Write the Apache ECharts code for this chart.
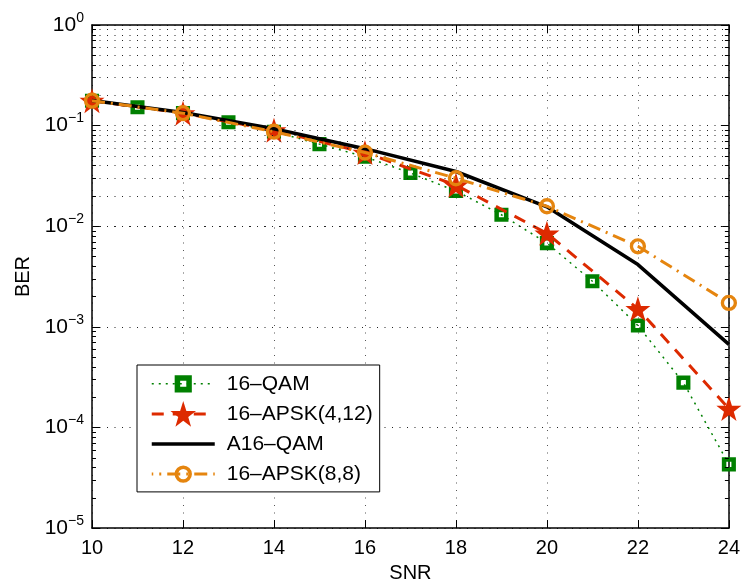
<!DOCTYPE html>
<html>
<head>
<meta charset="utf-8">
<script src="https://cdn.jsdelivr.net/npm/echarts@6/dist/echarts.min.js"></script>
<style>html,body{margin:0;padding:0;background:#fff;}#c{width:743px;height:588px;}</style>
</head>
<body>
<div id="c"></div>
<script>
// ---- data ----
const qamX = [10,11,12,13,14,15,16,17,18,19,20,21,22,23,24];
const qamY = [0.177,0.152,0.133,0.108,0.087,0.0655,0.049,0.0338,0.0224,0.0130,0.0068,0.00284,0.00103,0.000279,0.000043];
const evenX = [10,12,14,16,18,20,22,24];
const apsk412Y = [0.177,0.133,0.090,0.054,0.0256,0.0085,0.00151,0.000154];
const a16qamY = [0.178,0.135,0.093,0.059,0.035,0.0156,0.00416,0.000669];
const apsk88Y = [0.177,0.133,0.087,0.054,0.0300,0.0158,0.00632,0.00173];
const seriesNames = ['16\u2013QAM','16\u2013APSK(4,12)','A16\u2013QAM','16\u2013APSK(8,8)'];
const decades = [-5,-4,-3,-2,-1,0];

const pair = (xs, ys) => xs.map((x,i)=>[x, ys[i]]);
const FONT = 'Liberation Sans, Arial, sans-serif';
const GREEN = '#008000', RED = '#dd2a00', ORANGE = '#e5850f';
const star = 'path://M50,0 L61.8,35.1 L98.1,35.1 L68.8,56.7 L79.4,91 L50,70 L20.6,91 L31.2,56.7 L1.9,35.1 L38.2,35.1 Z';
const corners = 'M0,0 L0.1,0 L0,0.1 Z M100,100 L99.9,100 L100,99.9 Z ';
const squareRing = 'path://' + corners + 'M16.5,16.5 L83.5,16.5 L83.5,83.5 L16.5,83.5 Z M38,38 L38,62 L62,62 L62,38 Z';
const circleRing = 'path://' + corners + 'M16,50 A34,34 0 1,1 84,50 A34,34 0 1,1 16,50 Z M30,50 A20,20 0 1,0 70,50 A20,20 0 1,0 30,50 Z';

// minor grid values
const minorVals = [];
for (const d of decades.slice(0,-1)) for (let k=2;k<=9;k++) minorVals.push(k*Math.pow(10,d));
const dx = 4/45.7;
const minorLines = minorVals.map(v => ({yAxis: v}));
const minorTicks = [];
minorVals.forEach(v => {
  minorTicks.push([{coord:[10, v]},{coord:[10+dx, v]}]);
  minorTicks.push([{coord:[24-dx, v]},{coord:[24, v]}]);
});

const chart = echarts.init(document.getElementById('c'), null, {renderer:'canvas'});
const labelFmt = v => {
  const e = Math.round(Math.log10(v));
  return '{b|10}{s|' + (e < 0 ? '\u2212' + (-e) : e) + '}';
};
const gridDot = {color:'#222', width:1, type:[1,6.5]};
chart.setOption({
  animation: false,
  textStyle: {fontFamily: FONT},
  grid: {left: 92, right: 11, top: 25, bottom: 59, containLabel: false},
  legend: {
    data: [
      {name: seriesNames[0]},
      {name: seriesNames[1]},
      {name: seriesNames[2], itemStyle: {opacity: 0}},
      {name: seriesNames[3], lineStyle: {dashOffset: 11.5}}
    ],
    orient: 'vertical',
    left: 137, top: 365,
    padding: [6, 7, 5, 13],
    itemWidth: 63, itemHeight: 32, itemGap: 4.5,
    backgroundColor: '#fff',
    borderColor: '#000', borderWidth: 1,
    lineStyle: {width: 'inherit'},
    textStyle: {fontFamily: FONT, fontSize: 21, color: '#000', padding: [0,0,0,7]}
  },
  xAxis: [{
    type: 'value', min: 10, max: 24, interval: 2,
    name: 'SNR', nameLocation: 'middle', nameGap: 33,
    nameTextStyle: {fontSize: 20, color: '#000', fontFamily: FONT},
    axisLine: {lineStyle: {color: '#000', width: 1.5}},
    axisTick: {inside: true, length: 8, lineStyle: {color: '#000'}},
    axisLabel: {fontSize: 20, color: '#000', margin: 10, fontFamily: FONT},
    splitLine: {show: true, lineStyle: {color:'#555', width:1, type:[1,6.5]}}
  },{
    type: 'value', min: 10, max: 24, interval: 2, position: 'top',
    axisLine: {show: true, lineStyle: {color: '#000', width: 1.5}},
    axisTick: {inside: true, length: 8, lineStyle: {color: '#000'}},
    axisLabel: {show: false}, splitLine: {show: false}
  }],
  yAxis: [{
    type: 'log', logBase: 10, min: 1e-5, max: 1, splitNumber: 5,
    name: 'BER', nameLocation: 'middle', nameGap: 55, nameRotate: 90,
    nameTextStyle: {fontSize: 20, color: '#000', fontFamily: FONT},
    axisLine: {show: true, lineStyle: {color: '#000', width: 1.5}},
    axisTick: {show: true, inside: true, length: 8, lineStyle: {color: '#000'}},
    axisLabel: {
      formatter: labelFmt, margin: 8, color: '#000',
      rich: {
        b: {fontSize: 21, fontFamily: FONT, color:'#000'},
        s: {fontSize: 14, fontFamily: FONT, color:'#000', padding: [0,0,14,0]}
      }
    },
    splitLine: {show: true, lineStyle: gridDot}
  },{
    type: 'log', logBase: 10, min: 1e-5, max: 1, splitNumber: 5, position: 'right',
    axisLine: {show: true, lineStyle: {color: '#000', width: 1.5}},
    axisTick: {show: true, inside: true, length: 8, lineStyle: {color: '#000'}},
    axisLabel: {show: false}, splitLine: {show: false}
  }],
  series: [
    {
      name: 'minor', type: 'line', data: [[10, 1e-5]], symbol: 'none',
      lineStyle: {opacity: 0}, silent: true, legendHoverLink: false,
      markLine: {
        silent: true, symbol: ['none','none'], label: {show: false},
        lineStyle: gridDot,
        data: minorLines
      },
      z: 1
    },
    {
      name: 'minorTicks', type: 'line', data: [[10, 1e-5]], symbol: 'none',
      lineStyle: {opacity: 0}, silent: true,
      markLine: {
        silent: true, symbol: ['none','none'], label: {show: false},
        lineStyle: {color:'#000', width:1, type:'solid'},
        data: minorTicks
      },
      z: 1
    },
    {
      name: seriesNames[0], type: 'line', data: pair(qamX, qamY),
      symbol: squareRing, symbolSize: 21,
      lineStyle: {color: GREEN, width: 1.5, type: [2,5]},
      itemStyle: {color: GREEN, borderWidth: 0},
      z: 3
    },
    {
      name: seriesNames[1], type: 'line', data: pair(evenX, apsk412Y),
      symbol: star, symbolSize: 25,
      lineStyle: {color: RED, width: 3, type: [12,9]},
      itemStyle: {color: RED},
      z: 4
    },
    {
      name: seriesNames[2], type: 'line', data: pair(evenX, a16qamY),
      symbol: 'none',
      lineStyle: {color: '#000', width: 3.5, type: 'solid'},
      itemStyle: {color: 'rgba(0,0,0,0)', borderWidth: 0},
      z: 5
    },
    {
      name: seriesNames[3], type: 'line', data: pair(evenX, apsk88Y),
      symbol: circleRing, symbolSize: 24,
      lineStyle: {color: ORANGE, width: 3, type: [13,6,2,6]},
      itemStyle: {color: ORANGE, borderWidth: 0},
      z: 6
    }
  ]
});
</script>
</body>
</html>
